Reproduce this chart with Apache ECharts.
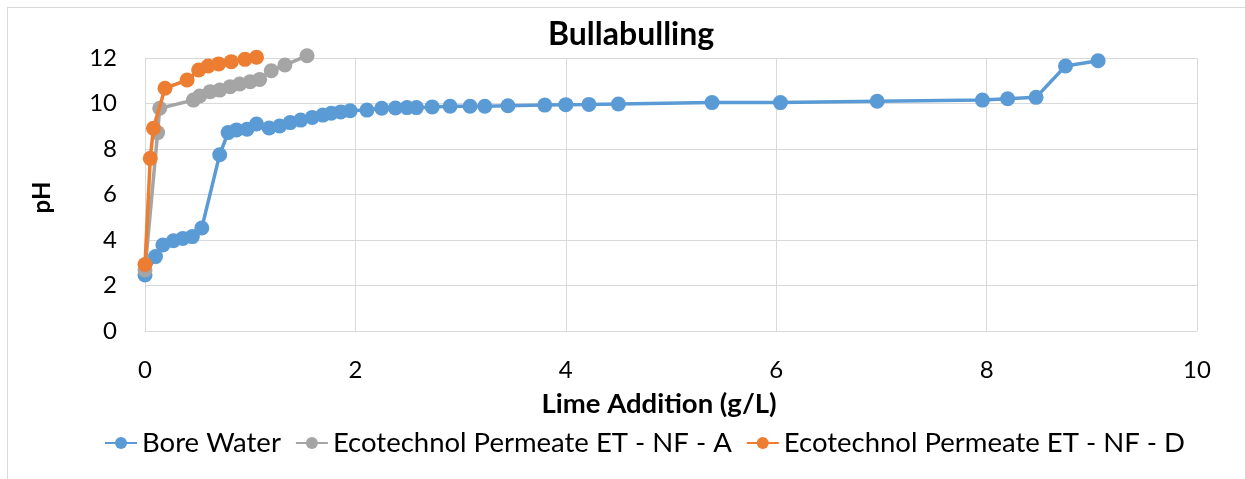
<!DOCTYPE html>
<html>
<head>
<meta charset="utf-8">
<script src="https://cdn.jsdelivr.net/npm/echarts@6/dist/echarts.min.js"></script>
<style>
html,body{margin:0;padding:0;background:#fff;overflow:hidden;}
#frame{position:absolute;left:7px;top:7px;width:1300px;height:500px;border:1px solid #d9d9d9;box-sizing:border-box;}
#chart{position:absolute;left:0;top:0;width:1245px;height:479px;}
</style>
</head>
<body>
<div id="frame"></div>
<div id="chart"></div>
<script>
const chartTitle = 'Bullabulling';
const xAxisTitle = 'Lime Addition (g/L)';
const yAxisTitle = 'pH';
const seriesNames = ['Bore Water', 'Ecotechnol Permeate ET - NF - A', 'Ecotechnol Permeate ET - NF - D'];

const boreX = [0, 0.10, 0.17, 0.27, 0.36, 0.45, 0.54, 0.71, 0.79, 0.87, 0.97, 1.06, 1.18, 1.28, 1.38, 1.48, 1.59, 1.69, 1.77, 1.86, 1.95, 2.11, 2.25, 2.38, 2.49, 2.58, 2.73, 2.90, 3.09, 3.23, 3.45, 3.80, 4.00, 4.22, 4.50, 5.39, 6.04, 6.96, 7.96, 8.20, 8.47, 8.75, 9.06];
const boreY = [2.46, 3.27, 3.78, 3.97, 4.07, 4.15, 4.53, 7.75, 8.72, 8.84, 8.87, 9.10, 8.92, 9.01, 9.16, 9.27, 9.39, 9.49, 9.57, 9.63, 9.68, 9.71, 9.79, 9.80, 9.82, 9.82, 9.85, 9.88, 9.88, 9.88, 9.90, 9.93, 9.95, 9.96, 9.98, 10.04, 10.04, 10.10, 10.15, 10.21, 10.27, 11.65, 11.88];

const nfaX = [0, 0.12, 0.14, 0.46, 0.52, 0.62, 0.71, 0.81, 0.90, 1.00, 1.09, 1.20, 1.33, 1.54];
const nfaY = [2.68, 8.72, 9.79, 10.15, 10.33, 10.52, 10.59, 10.74, 10.86, 10.96, 11.06, 11.44, 11.69, 12.10];

const nfdX = [0, 0.05, 0.08, 0.19, 0.40, 0.51, 0.60, 0.70, 0.82, 0.95, 1.06];
const nfdY = [2.92, 7.59, 8.91, 10.67, 11.03, 11.47, 11.65, 11.74, 11.84, 11.94, 12.03];

const xTicks = [0, 2, 4, 6, 8, 10];
const yTicks = [0, 2, 4, 6, 8, 10, 12];

const colors = ['#5B9BD5', '#A5A5A5', '#ED7D31'];
const FONT = 'Lato';

function zip(xs, ys) { return xs.map((x, i) => [x, ys[i]]); }
const seriesData = [zip(boreX, boreY), zip(nfaX, nfaY), zip(nfdX, nfdY)];

const chart = echarts.init(document.getElementById('chart'), null, {renderer: 'canvas'});
chart.setOption({
  animation: false,
  backgroundColor: 'transparent',
  color: colors,
  title: {
    text: chartTitle,
    left: 548,
    top: 14,
    padding: [5, 0, 5, 0],
    textStyle: {fontFamily: FONT, fontSize: 32, fontWeight: 'bold', color: '#000'}
  },
  legend: {
    data: seriesNames,
    top: 424,
    left: 99,
    padding: 5,
    itemWidth: 32,
    itemHeight: 15,
    itemGap: 14,
    textStyle: {fontFamily: FONT, fontSize: 27.5, color: '#000'}
  },
  grid: {left: 145, right: 48, top: 58, bottom: 148, containLabel: false},
  xAxis: {
    type: 'value',
    min: xTicks[0],
    max: xTicks[xTicks.length - 1],
    interval: 2,
    name: xAxisTitle,
    nameLocation: 'middle',
    nameGap: 59,
    nameTextStyle: {fontFamily: FONT, fontSize: 27.5, fontWeight: 'bold', color: '#000', padding: [0, 24, 0, 0]},
    axisLine: {show: true, lineStyle: {color: '#d9d9d9', width: 1}},
    axisTick: {show: false},
    splitLine: {show: true, lineStyle: {color: '#d9d9d9', width: 1}},
    axisLabel: {fontFamily: FONT, fontSize: 24, color: '#000', margin: 27}
  },
  yAxis: {
    type: 'value',
    min: yTicks[0],
    max: yTicks[yTicks.length - 1],
    interval: 2,
    name: yAxisTitle,
    nameLocation: 'middle',
    nameGap: 91,
    nameRotate: 90,
    nameTextStyle: {fontFamily: FONT, fontSize: 24, fontWeight: 'bold', color: '#000', padding: [0, 6, 0, 0]},
    axisLine: {show: true, lineStyle: {color: '#d9d9d9', width: 1}},
    axisTick: {show: false},
    splitLine: {show: true, lineStyle: {color: '#d9d9d9', width: 1}},
    axisLabel: {fontFamily: FONT, fontSize: 24, color: '#000', margin: 28}
  },
  series: seriesNames.map((name, i) => ({
    name: name,
    type: 'line',
    data: seriesData[i],
    symbol: 'circle',
    symbolSize: 15,
    showSymbol: true,
    clip: false,
    lineStyle: {width: 3.5, color: colors[i]},
    itemStyle: {color: colors[i]},
    z: 2 + i
  }))
});
</script>
</body>
</html>
